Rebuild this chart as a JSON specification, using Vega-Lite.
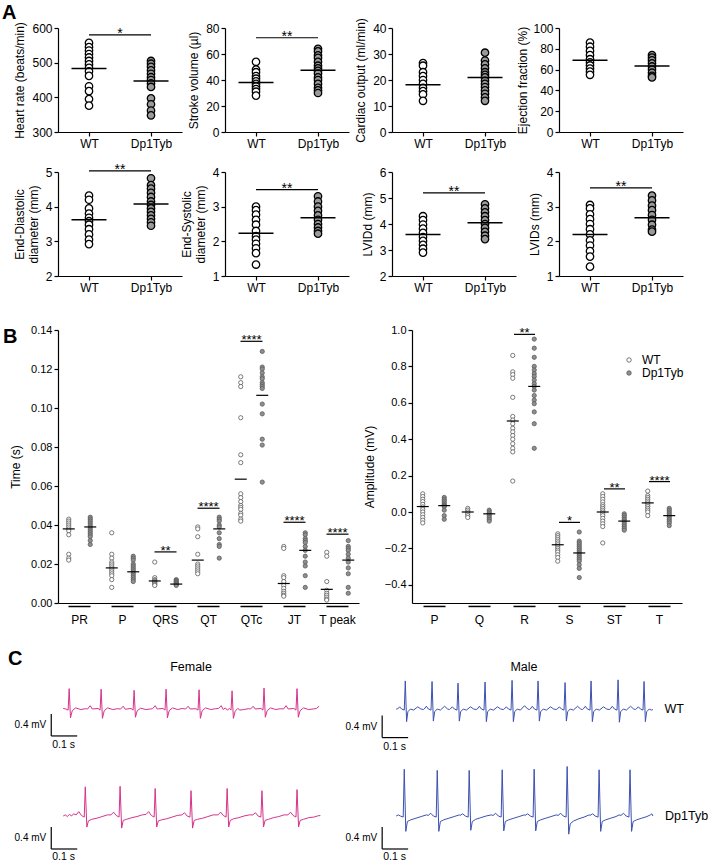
{
"$schema": "https://vega.github.io/schema/vega-lite/v6.json",
"background": "white",
"padding": {"left": 2, "top": 2, "right": 2, "bottom": 2},
"config": {
 "font": "Liberation Sans",
 "view": {"stroke": null},
 "axis": {"grid": false, "domainColor": "black", "tickColor": "black", "labelColor": "black", "titleColor": "black", "titleFontWeight": "normal", "labelFontSize": 12, "titleFontSize": 12, "domainWidth": 1.2, "tickWidth": 1.2, "tickSize": 4, "labelPadding": 2, "titlePadding": 5, "labelFont": "Liberation Sans", "titleFont": "Liberation Sans"},
 "title": {"font": "Liberation Sans", "color": "black"},
 "text": {"font": "Liberation Sans", "color": "black"}
},
"datasets": {
 "a": [
  {"m":"HR","g":"WT","k":"pt","v":[557,545,535,525,515,505,495,485,475,462,432,418,395,376]},
  {"m":"HR","g":"Dp1Tyb","k":"pt","v":[505,497,488,478,468,458,450,440,430,397,380,362,348]},
  {"m":"HR","g":"WT","k":"mean","v":[483]},
  {"m":"HR","g":"Dp1Tyb","k":"mean","v":[447]},
  {"m":"HR","g":"WT","k":"sig","v":[580],"lab":"*"},
  {"m":"SV","g":"WT","k":"pt","v":[54,48,46,43,41,39,37,35,33,31,28]},
  {"m":"SV","g":"Dp1Tyb","k":"pt","v":[64,62,59,57,54,51,49,47,45,42,40,37,34,32,30]},
  {"m":"SV","g":"WT","k":"mean","v":[38]},
  {"m":"SV","g":"Dp1Tyb","k":"mean","v":[47.5]},
  {"m":"SV","g":"WT","k":"sig","v":[72.5],"lab":"**"},
  {"m":"CO","g":"WT","k":"pt","v":[26.5,25.5,23,21.5,20,18.5,17,15.7,14.5,12]},
  {"m":"CO","g":"Dp1Tyb","k":"pt","v":[30.5,27.5,26,24.5,23,22,21,19.7,18.5,17.3,16,14.7,13.3,12]},
  {"m":"CO","g":"WT","k":"mean","v":[18.2]},
  {"m":"CO","g":"Dp1Tyb","k":"mean","v":[21]},
  {"m":"EF","g":"WT","k":"pt","v":[86,82,78,74,70,67,64,61,58,55]},
  {"m":"EF","g":"Dp1Tyb","k":"pt","v":[74,71.5,69,66,63,60,57,54,52.5]},
  {"m":"EF","g":"WT","k":"mean","v":[69]},
  {"m":"EF","g":"Dp1Tyb","k":"mean","v":[63.5]},
  {"m":"ED","g":"WT","k":"pt","v":[4.32,4.2,3.95,3.8,3.68,3.58,3.48,3.35,3.2,3.05,2.92]},
  {"m":"ED","g":"Dp1Tyb","k":"pt","v":[4.82,4.62,4.52,4.4,4.28,4.15,4.05,3.95,3.85,3.75,3.65,3.55,3.45]},
  {"m":"ED","g":"WT","k":"mean","v":[3.62]},
  {"m":"ED","g":"Dp1Tyb","k":"mean","v":[4.08]},
  {"m":"ED","g":"WT","k":"sig","v":[5.03],"lab":"**"},
  {"m":"ES","g":"WT","k":"pt","v":[3.0,2.9,2.77,2.62,2.48,2.3,2.15,2.05,1.93,1.8,1.66,1.33]},
  {"m":"ES","g":"Dp1Tyb","k":"pt","v":[3.3,3.15,3.0,2.88,2.75,2.62,2.5,2.4,2.3,2.22]},
  {"m":"ES","g":"WT","k":"mean","v":[2.23]},
  {"m":"ES","g":"Dp1Tyb","k":"mean","v":[2.68]},
  {"m":"ES","g":"WT","k":"sig","v":[3.49],"lab":"**"},
  {"m":"LD","g":"WT","k":"pt","v":[4.3,4.15,3.98,3.82,3.66,3.5,3.35,3.2,3.05,2.9]},
  {"m":"LD","g":"Dp1Tyb","k":"pt","v":[4.76,4.6,4.45,4.3,4.15,4.0,3.85,3.7,3.55,3.42]},
  {"m":"LD","g":"WT","k":"mean","v":[3.6]},
  {"m":"LD","g":"Dp1Tyb","k":"mean","v":[4.05]},
  {"m":"LD","g":"WT","k":"sig","v":[5.2],"lab":"**"},
  {"m":"LS","g":"WT","k":"pt","v":[3.05,2.95,2.78,2.64,2.5,2.35,2.2,2.03,1.88,1.72,1.56,1.27]},
  {"m":"LS","g":"Dp1Tyb","k":"pt","v":[3.32,3.18,3.03,2.9,2.76,2.62,2.48,2.34,2.28]},
  {"m":"LS","g":"WT","k":"mean","v":[2.2]},
  {"m":"LS","g":"Dp1Tyb","k":"mean","v":[2.68]},
  {"m":"LS","g":"WT","k":"sig","v":[3.54],"lab":"**"}
 ],
 "bt": [
  {"p":"PR","g":"WT","k":"pt","v":[0.043,0.042,0.041,0.040,0.039,0.038,0.037,0.035,0.025,0.023,0.022]},
  {"p":"PR","g":"Dp1Tyb","k":"pt","v":[0.044,0.043,0.042,0.041,0.040,0.039,0.038,0.037,0.036,0.035,0.034,0.032,0.030]},
  {"p":"P","g":"WT","k":"pt","v":[0.036,0.025,0.023,0.021,0.020,0.019,0.018,0.017,0.016,0.015,0.014,0.012,0.008]},
  {"p":"P","g":"Dp1Tyb","k":"pt","v":[0.024,0.023,0.022,0.020,0.019,0.018,0.017,0.016,0.015,0.014,0.013,0.012,0.011]},
  {"p":"QRS","g":"WT","k":"pt","v":[0.021,0.013,0.012,0.0115,0.011,0.0105,0.010,0.0095,0.009]},
  {"p":"QRS","g":"Dp1Tyb","k":"pt","v":[0.012,0.0115,0.011,0.0105,0.010,0.0095,0.009]},
  {"p":"QT","g":"WT","k":"pt","v":[0.039,0.038,0.034,0.025,0.020,0.019,0.018,0.017,0.016,0.015]},
  {"p":"QT","g":"Dp1Tyb","k":"pt","v":[0.044,0.043,0.042,0.040,0.039,0.036,0.033,0.030,0.029,0.023]},
  {"p":"QTc","g":"WT","k":"pt","v":[0.116,0.113,0.111,0.095,0.076,0.072,0.056,0.054,0.052,0.050,0.049,0.048,0.046,0.045,0.043,0.042]},
  {"p":"QTc","g":"Dp1Tyb","k":"pt","v":[0.129,0.121,0.120,0.118,0.116,0.115,0.113,0.112,0.111,0.110,0.102,0.097,0.084,0.081,0.062]},
  {"p":"JT","g":"WT","k":"pt","v":[0.029,0.028,0.014,0.013,0.011,0.009,0.0075,0.006,0.005,0.004,0.0035]},
  {"p":"JT","g":"Dp1Tyb","k":"pt","v":[0.036,0.035,0.033,0.032,0.031,0.029,0.027,0.024,0.021,0.019,0.014,0.008]},
  {"p":"T peak","g":"WT","k":"pt","v":[0.026,0.024,0.011,0.0065,0.005,0.004,0.003,0.002,0.0015]},
  {"p":"T peak","g":"Dp1Tyb","k":"pt","v":[0.032,0.029,0.028,0.027,0.025,0.023,0.021,0.018,0.015,0.008,0.005]},
  {"p":"PR","g":"WT","k":"mean","v":[0.038]},
  {"p":"PR","g":"Dp1Tyb","k":"mean","v":[0.039]},
  {"p":"P","g":"WT","k":"mean","v":[0.018]},
  {"p":"P","g":"Dp1Tyb","k":"mean","v":[0.016]},
  {"p":"QRS","g":"WT","k":"mean","v":[0.0113]},
  {"p":"QRS","g":"Dp1Tyb","k":"mean","v":[0.0097]},
  {"p":"QT","g":"WT","k":"mean","v":[0.022]},
  {"p":"QT","g":"Dp1Tyb","k":"mean","v":[0.038]},
  {"p":"QTc","g":"WT","k":"mean","v":[0.0635]},
  {"p":"QTc","g":"Dp1Tyb","k":"mean","v":[0.1065]},
  {"p":"JT","g":"WT","k":"mean","v":[0.010]},
  {"p":"JT","g":"Dp1Tyb","k":"mean","v":[0.027]},
  {"p":"T peak","g":"WT","k":"mean","v":[0.007]},
  {"p":"T peak","g":"Dp1Tyb","k":"mean","v":[0.022]},
  {"p":"QRS","g":"WT","k":"sig","v":[0.0262],"lab":"**"},
  {"p":"QT","g":"WT","k":"sig","v":[0.0486],"lab":"****"},
  {"p":"QTc","g":"WT","k":"sig","v":[0.1342],"lab":"****"},
  {"p":"JT","g":"WT","k":"sig","v":[0.0414],"lab":"****"},
  {"p":"T peak","g":"WT","k":"sig","v":[0.0353],"lab":"****"}
 ],
 "ba": [
  {"p":"P","g":"WT","k":"pt","v":[0.10,0.085,0.07,0.057,0.042,0.028,0.013,0.0,-0.015,-0.03,-0.045,-0.06]},
  {"p":"P","g":"Dp1Tyb","k":"pt","v":[0.08,0.07,0.06,0.05,0.04,0.035,0.03,0.01,-0.02,-0.04]},
  {"p":"Q","g":"WT","k":"pt","v":[0.02,0.01,0.0,-0.01,-0.02,-0.03]},
  {"p":"Q","g":"Dp1Tyb","k":"pt","v":[0.01,0.0,-0.01,-0.02,-0.03,-0.04,-0.05]},
  {"p":"R","g":"WT","k":"pt","v":[0.86,0.77,0.755,0.735,0.63,0.525,0.505,0.485,0.46,0.44,0.42,0.40,0.375,0.35,0.33,0.17]},
  {"p":"R","g":"Dp1Tyb","k":"pt","v":[0.95,0.90,0.85,0.80,0.78,0.76,0.745,0.725,0.705,0.69,0.67,0.64,0.615,0.595,0.55,0.485,0.35]},
  {"p":"S","g":"WT","k":"pt","v":[-0.12,-0.13,-0.14,-0.15,-0.16,-0.17,-0.18,-0.19,-0.20,-0.21,-0.22,-0.235,-0.25,-0.27]},
  {"p":"S","g":"Dp1Tyb","k":"pt","v":[-0.11,-0.16,-0.17,-0.18,-0.19,-0.2,-0.21,-0.22,-0.23,-0.24,-0.25,-0.26,-0.27,-0.29,-0.31,-0.36]},
  {"p":"ST","g":"WT","k":"pt","v":[0.10,0.085,0.07,0.055,0.04,0.03,0.02,0.01,0.0,-0.01,-0.02,-0.035,-0.05,-0.065,-0.08,-0.17]},
  {"p":"ST","g":"Dp1Tyb","k":"pt","v":[-0.01,-0.02,-0.03,-0.04,-0.05,-0.06,-0.07,-0.08,-0.09,-0.1]},
  {"p":"T","g":"WT","k":"pt","v":[0.115,0.09,0.08,0.07,0.06,0.05,0.04,0.03,0.02,0.01,0.0,-0.02]},
  {"p":"T","g":"Dp1Tyb","k":"pt","v":[0.02,0.01,0.0,-0.01,-0.02,-0.03,-0.04,-0.05,-0.06,-0.075]},
  {"p":"P","g":"WT","k":"mean","v":[0.03]},
  {"p":"P","g":"Dp1Tyb","k":"mean","v":[0.035]},
  {"p":"Q","g":"WT","k":"mean","v":[0.0]},
  {"p":"Q","g":"Dp1Tyb","k":"mean","v":[-0.01]},
  {"p":"R","g":"WT","k":"mean","v":[0.5]},
  {"p":"R","g":"Dp1Tyb","k":"mean","v":[0.69]},
  {"p":"S","g":"WT","k":"mean","v":[-0.18]},
  {"p":"S","g":"Dp1Tyb","k":"mean","v":[-0.225]},
  {"p":"ST","g":"WT","k":"mean","v":[0.0]},
  {"p":"ST","g":"Dp1Tyb","k":"mean","v":[-0.05]},
  {"p":"T","g":"WT","k":"mean","v":[0.05]},
  {"p":"T","g":"Dp1Tyb","k":"mean","v":[-0.02]},
  {"p":"R","g":"WT","k":"sig","v":[0.976],"lab":"**"},
  {"p":"S","g":"WT","k":"sig","v":[-0.057],"lab":"*"},
  {"p":"ST","g":"WT","k":"sig","v":[0.127],"lab":"**"},
  {"p":"T","g":"WT","k":"sig","v":[0.167],"lab":"****"}
 ],
 "fw": [{"t":[0,0.01,0.019,0.023,0.028,0.035,0.048,0.068,0.085,0.094,0.104,0.112,0.134,0.142,0.146,0.151,0.158,0.171,0.191,0.208,0.221,0.231,0.239,0.261,0.269,0.273,0.278,0.285,0.298,0.318,0.335,0.344,0.354,0.362,0.384,0.392,0.396,0.401,0.408,0.421,0.441,0.458,0.471,0.481,0.489,0.511,0.519,0.523,0.528,0.535,0.548,0.568,0.585,0.598,0.608,0.616,0.624,0.632,0.640,0.646,0.650,0.655,0.662,0.672,0.680,0.695,0.712,0.721,0.731,0.739,0.761,0.769,0.773,0.778,0.785,0.798,0.818,0.835,0.848,0.858,0.866,0.888,0.896,0.900,0.905,0.912,0.925,0.945,0.962,0.975,0.985],
         "v":[0.01,0.0,-0.02,0.37,-0.16,-0.03,0.02,-0.01,0.005,0.0,0.06,0.0,0.01,-0.02,0.36,-0.17,-0.03,0.02,-0.01,0.005,0.0,0.05,-0.005,0.01,-0.02,0.34,-0.15,-0.03,0.015,-0.01,0.0,0.005,0.06,0.0,0.01,-0.02,0.36,-0.16,-0.03,0.02,-0.01,0.01,0.0,0.05,0.0,0.005,-0.02,0.35,-0.17,-0.03,0.02,-0.01,0.005,0.01,0.06,-0.01,0.02,-0.02,0.01,-0.02,0.33,-0.17,-0.04,0.01,-0.02,-0.01,0.005,0.0,0.05,0.0,0.01,-0.02,0.38,-0.15,-0.03,0.02,-0.01,0.005,0.0,0.06,0.0,0.01,-0.02,0.37,-0.15,-0.03,0.02,-0.01,0.0,0.01,0.05]}],
 "fd": [{"t":[0,0.008,0.016,0.024,0.032,0.04,0.05,0.06,0.07,0.081,0.085,0.091,0.097,0.11,0.13,0.15,0.17,0.184,0.194,0.204,0.215,0.219,0.225,0.231,0.244,0.264,0.284,0.304,0.319,0.329,0.339,0.35,0.354,0.36,0.366,0.379,0.399,0.419,0.439,0.457,0.467,0.477,0.488,0.492,0.498,0.504,0.517,0.537,0.557,0.577,0.596,0.606,0.616,0.627,0.631,0.637,0.643,0.656,0.676,0.696,0.716,0.73,0.74,0.75,0.761,0.765,0.771,0.777,0.79,0.81,0.83,0.85,0.865,0.875,0.885,0.896,0.9,0.906,0.912,0.925,0.945,0.965,0.978,0.99],
         "v":[0.0,0.02,-0.01,0.03,0.0,0.04,0.02,0.08,0.01,-0.02,0.53,-0.2,-0.09,-0.06,-0.04,-0.01,0.02,0.02,0.07,0.01,-0.02,0.54,-0.22,-0.08,-0.06,-0.03,-0.01,0.02,0.03,0.08,0.01,-0.02,0.5,-0.2,-0.09,-0.07,-0.05,-0.02,0.01,0.02,0.06,0.0,-0.02,0.46,-0.22,-0.08,-0.06,-0.04,-0.01,0.02,0.02,0.07,0.01,-0.02,0.5,-0.2,-0.08,-0.05,-0.03,0.0,0.02,0.02,0.06,0.0,-0.02,0.46,-0.2,-0.08,-0.06,-0.03,-0.01,0.02,0.02,0.07,0.01,-0.02,0.48,-0.2,-0.08,-0.06,-0.03,-0.02,0.0,0.01]}],
 "mw": [{"t":[0,0.005,0.013,0.021,0.031,0.035,0.04,0.045,0.055,0.067,0.083,0.095,0.105,0.108,0.116,0.124,0.134,0.138,0.143,0.148,0.158,0.17,0.186,0.198,0.205,0.208,0.216,0.224,0.234,0.238,0.243,0.248,0.258,0.27,0.286,0.298,0.308,0.312,0.32,0.328,0.338,0.342,0.347,0.352,0.362,0.374,0.39,0.402,0.412,0.416,0.424,0.432,0.442,0.446,0.451,0.456,0.466,0.478,0.494,0.506,0.513,0.516,0.524,0.532,0.542,0.546,0.551,0.556,0.566,0.578,0.594,0.606,0.616,0.62,0.628,0.636,0.646,0.65,0.655,0.66,0.67,0.682,0.698,0.71,0.717,0.72,0.728,0.736,0.746,0.75,0.755,0.76,0.77,0.782,0.798,0.81,0.82,0.824,0.832,0.84,0.85,0.854,0.859,0.864,0.874,0.886,0.902,0.914,0.921,0.924,0.932,0.94,0.95,0.954,0.959,0.964,0.974,0.982,0.988],
         "v":[0.0,0.0,0.04,0.0,-0.02,0.51,-0.23,-0.05,0.0,-0.02,0.04,0.0,-0.01,0.0,0.05,0.0,-0.02,0.5,-0.22,-0.05,0.0,-0.02,0.05,0.0,-0.01,0.0,0.04,0.0,-0.02,0.47,-0.22,-0.05,0.0,-0.02,0.04,0.0,-0.01,0.0,0.05,0.0,-0.02,0.49,-0.23,-0.05,0.0,-0.02,0.04,0.0,-0.01,0.0,0.04,0.0,-0.02,0.52,-0.23,-0.05,0.0,-0.02,0.06,0.0,-0.01,0.0,0.05,0.0,-0.02,0.51,-0.22,-0.05,0.0,-0.02,0.04,0.0,-0.01,0.0,0.04,0.0,-0.02,0.48,-0.22,-0.05,0.0,-0.02,0.05,0.0,-0.01,0.0,0.05,0.0,-0.02,0.51,-0.23,-0.05,0.0,-0.02,0.04,0.0,-0.01,0.0,0.05,0.0,-0.02,0.53,-0.24,-0.05,0.0,-0.02,0.05,0.0,-0.01,0.0,0.04,0.0,-0.02,0.5,-0.23,-0.05,0.0,-0.02,-0.01]}],
 "md": [{"t":[0,0.008,0.016,0.027,0.031,0.037,0.043,0.056,0.076,0.096,0.116,0.123,0.133,0.143,0.154,0.158,0.164,0.17,0.183,0.203,0.223,0.243,0.246,0.256,0.266,0.277,0.281,0.287,0.293,0.306,0.326,0.346,0.366,0.373,0.383,0.393,0.404,0.408,0.414,0.42,0.433,0.453,0.473,0.493,0.496,0.506,0.516,0.527,0.531,0.537,0.543,0.556,0.576,0.596,0.616,0.623,0.633,0.643,0.654,0.658,0.664,0.67,0.683,0.703,0.723,0.743,0.746,0.756,0.766,0.777,0.781,0.787,0.793,0.806,0.826,0.846,0.858,0.865,0.875,0.885,0.896,0.9,0.906,0.912,0.925,0.945,0.965,0.978,0.984,0.988],
         "v":[0.0,0.02,0.0,-0.02,0.85,-0.28,-0.1,-0.07,-0.04,-0.01,0.02,0.01,0.05,0.0,-0.02,0.83,-0.28,-0.1,-0.07,-0.04,-0.01,0.02,0.01,0.04,0.0,-0.02,0.83,-0.26,-0.1,-0.06,-0.03,0.0,0.02,0.01,0.05,0.0,-0.02,0.84,-0.27,-0.1,-0.07,-0.04,-0.01,0.02,0.01,0.04,0.0,-0.02,0.85,-0.27,-0.1,-0.07,-0.04,-0.01,0.02,0.01,0.05,0.0,-0.02,0.9,-0.33,-0.14,-0.09,-0.05,-0.02,0.02,0.01,0.04,0.0,-0.02,0.84,-0.28,-0.1,-0.07,-0.04,-0.01,0.02,0.01,0.05,0.0,-0.02,0.84,-0.28,-0.1,-0.07,-0.04,-0.01,0.02,0.04,0.0]}],
 "sb": [
  {"s":"F","g":"WT","t0":-0.046,"t1":0.054,"v0":-0.09,"v1":-0.49,"vm":-0.29},
  {"s":"F","g":"Dp1Tyb","t0":-0.046,"t1":0.054,"v0":-0.2,"v1":-0.6,"vm":-0.4},
  {"s":"M","g":"WT","t0":-0.054,"t1":0.046,"v0":-0.12,"v1":-0.52,"vm":-0.32},
  {"s":"M","g":"Dp1Tyb","t0":-0.054,"t1":0.046,"v0":-0.2,"v1":-0.6,"vm":-0.4}
 ]
},
"bounds": "flush",
"spacing": 648,
"vconcat": [
 {"bounds": "flush", "spacing": 302, "vconcat": [
  {"bounds": "flush", "spacing": 144, "vconcat": [
   {"bounds": "flush", "spacing": 43, "hconcat": [
    {"width": 124, "height": 104,
     "title": {"text": "A", "anchor": "start", "frame": "group", "dx": -56, "offset": -17, "baseline": "alphabetic", "fontSize": 20, "fontWeight": "bold"},
     "data": {"name": "a"},
     "transform": [{"filter": "datum.m==='HR'"}, {"flatten": ["v"]}],
     "encoding": {
      "x": {"field": "g", "type": "nominal", "sort": ["WT","Dp1Tyb"], "scale": {"type": "point", "padding": 0.5, "domain": ["WT","Dp1Tyb"]}, "axis": {"title": null, "labelAngle": 0}},
      "y": {"field": "v", "type": "quantitative", "scale": {"domain": [300,600], "nice": false, "zero": false}, "axis": {"title": "Heart rate (beats/min)", "values": [300,400,500,600]}}
     },
     "layer": [
      {"transform": [{"filter": "datum.k==='pt'"}], "mark": {"type": "circle", "size": 55, "stroke": "black", "strokeWidth": 1.3, "opacity": 1}, "encoding": {"fill": {"condition": {"test": "datum.g==='WT'", "value": "white"}, "value": "#9a9a9a"}}},
      {"transform": [{"filter": "datum.k==='mean'"}], "mark": {"type": "tick", "size": 35, "thickness": 1.5, "color": "black", "opacity": 1}},
      {"transform": [{"filter": "datum.k==='sig'"}], "mark": {"type": "rule", "color": "black", "strokeWidth": 1.2}, "encoding": {"x": {"datum": "WT"}, "x2": {"datum": "Dp1Tyb"}}},
      {"transform": [{"filter": "datum.k==='sig'"}], "mark": {"type": "text", "dx": 31, "dy": 3, "fontSize": 14, "baseline": "alphabetic"}, "encoding": {"x": {"datum": "WT"}, "text": {"field": "lab"}}}
     ]},
    {"width": 124, "height": 104,
     "data": {"name": "a"},
     "transform": [{"filter": "datum.m==='SV'"}, {"flatten": ["v"]}],
     "encoding": {
      "x": {"field": "g", "type": "nominal", "sort": ["WT","Dp1Tyb"], "scale": {"type": "point", "padding": 0.5, "domain": ["WT","Dp1Tyb"]}, "axis": {"title": null, "labelAngle": 0}},
      "y": {"field": "v", "type": "quantitative", "scale": {"domain": [0,80], "nice": false, "zero": false}, "axis": {"title": "Stroke volume (µl)", "values": [0,20,40,60,80]}}
     },
     "layer": [
      {"transform": [{"filter": "datum.k==='pt'"}], "mark": {"type": "circle", "size": 55, "stroke": "black", "strokeWidth": 1.3, "opacity": 1}, "encoding": {"fill": {"condition": {"test": "datum.g==='WT'", "value": "white"}, "value": "#9a9a9a"}}},
      {"transform": [{"filter": "datum.k==='mean'"}], "mark": {"type": "tick", "size": 35, "thickness": 1.5, "color": "black", "opacity": 1}},
      {"transform": [{"filter": "datum.k==='sig'"}], "mark": {"type": "rule", "color": "black", "strokeWidth": 1.2}, "encoding": {"x": {"datum": "WT"}, "x2": {"datum": "Dp1Tyb"}}},
      {"transform": [{"filter": "datum.k==='sig'"}], "mark": {"type": "text", "dx": 31, "dy": 3, "fontSize": 14, "baseline": "alphabetic"}, "encoding": {"x": {"datum": "WT"}, "text": {"field": "lab"}}}
     ]},
    {"width": 124, "height": 104,
     "data": {"name": "a"},
     "transform": [{"filter": "datum.m==='CO'"}, {"flatten": ["v"]}],
     "encoding": {
      "x": {"field": "g", "type": "nominal", "sort": ["WT","Dp1Tyb"], "scale": {"type": "point", "padding": 0.5, "domain": ["WT","Dp1Tyb"]}, "axis": {"title": null, "labelAngle": 0}},
      "y": {"field": "v", "type": "quantitative", "scale": {"domain": [0,40], "nice": false, "zero": false}, "axis": {"title": "Cardiac output (ml/min)", "values": [0,10,20,30,40]}}
     },
     "layer": [
      {"transform": [{"filter": "datum.k==='pt'"}], "mark": {"type": "circle", "size": 55, "stroke": "black", "strokeWidth": 1.3, "opacity": 1}, "encoding": {"fill": {"condition": {"test": "datum.g==='WT'", "value": "white"}, "value": "#9a9a9a"}}},
      {"transform": [{"filter": "datum.k==='mean'"}], "mark": {"type": "tick", "size": 35, "thickness": 1.5, "color": "black", "opacity": 1}}
     ]},
    {"width": 124, "height": 104,
     "data": {"name": "a"},
     "transform": [{"filter": "datum.m==='EF'"}, {"flatten": ["v"]}],
     "encoding": {
      "x": {"field": "g", "type": "nominal", "sort": ["WT","Dp1Tyb"], "scale": {"type": "point", "padding": 0.5, "domain": ["WT","Dp1Tyb"]}, "axis": {"title": null, "labelAngle": 0}},
      "y": {"field": "v", "type": "quantitative", "scale": {"domain": [0,100], "nice": false, "zero": false}, "axis": {"title": "Ejection fraction (%)", "values": [0,20,40,60,80,100], "titlePadding": 3}}
     },
     "layer": [
      {"transform": [{"filter": "datum.k==='pt'"}], "mark": {"type": "circle", "size": 55, "stroke": "black", "strokeWidth": 1.3, "opacity": 1}, "encoding": {"fill": {"condition": {"test": "datum.g==='WT'", "value": "white"}, "value": "#9a9a9a"}}},
      {"transform": [{"filter": "datum.k==='mean'"}], "mark": {"type": "tick", "size": 35, "thickness": 1.5, "color": "black", "opacity": 1}}
     ]}
   ]},
   {"bounds": "flush", "spacing": 43, "hconcat": [
    {"width": 124, "height": 104,
     "data": {"name": "a"},
     "transform": [{"filter": "datum.m==='ED'"}, {"flatten": ["v"]}],
     "encoding": {
      "x": {"field": "g", "type": "nominal", "sort": ["WT","Dp1Tyb"], "scale": {"type": "point", "padding": 0.5, "domain": ["WT","Dp1Tyb"]}, "axis": {"title": null, "labelAngle": 0}},
      "y": {"field": "v", "type": "quantitative", "scale": {"domain": [2,5], "nice": false, "zero": false}, "axis": {"title": ["End-Diastolic","diameter (mm)"], "values": [2,3,4,5]}}
     },
     "layer": [
      {"transform": [{"filter": "datum.k==='pt'"}], "mark": {"type": "circle", "size": 55, "stroke": "black", "strokeWidth": 1.3, "opacity": 1}, "encoding": {"fill": {"condition": {"test": "datum.g==='WT'", "value": "white"}, "value": "#9a9a9a"}}},
      {"transform": [{"filter": "datum.k==='mean'"}], "mark": {"type": "tick", "size": 35, "thickness": 1.5, "color": "black", "opacity": 1}},
      {"transform": [{"filter": "datum.k==='sig'"}], "mark": {"type": "rule", "color": "black", "strokeWidth": 1.2}, "encoding": {"x": {"datum": "WT"}, "x2": {"datum": "Dp1Tyb"}}},
      {"transform": [{"filter": "datum.k==='sig'"}], "mark": {"type": "text", "dx": 31, "dy": 3, "fontSize": 14, "baseline": "alphabetic"}, "encoding": {"x": {"datum": "WT"}, "text": {"field": "lab"}}}
     ]},
    {"width": 124, "height": 104,
     "data": {"name": "a"},
     "transform": [{"filter": "datum.m==='ES'"}, {"flatten": ["v"]}],
     "encoding": {
      "x": {"field": "g", "type": "nominal", "sort": ["WT","Dp1Tyb"], "scale": {"type": "point", "padding": 0.5, "domain": ["WT","Dp1Tyb"]}, "axis": {"title": null, "labelAngle": 0}},
      "y": {"field": "v", "type": "quantitative", "scale": {"domain": [1,4], "nice": false, "zero": false}, "axis": {"title": ["End-Systolic","diameter (mm)"], "values": [1,2,3,4]}}
     },
     "layer": [
      {"transform": [{"filter": "datum.k==='pt'"}], "mark": {"type": "circle", "size": 55, "stroke": "black", "strokeWidth": 1.3, "opacity": 1}, "encoding": {"fill": {"condition": {"test": "datum.g==='WT'", "value": "white"}, "value": "#9a9a9a"}}},
      {"transform": [{"filter": "datum.k==='mean'"}], "mark": {"type": "tick", "size": 35, "thickness": 1.5, "color": "black", "opacity": 1}},
      {"transform": [{"filter": "datum.k==='sig'"}], "mark": {"type": "rule", "color": "black", "strokeWidth": 1.2}, "encoding": {"x": {"datum": "WT"}, "x2": {"datum": "Dp1Tyb"}}},
      {"transform": [{"filter": "datum.k==='sig'"}], "mark": {"type": "text", "dx": 31, "dy": 3, "fontSize": 14, "baseline": "alphabetic"}, "encoding": {"x": {"datum": "WT"}, "text": {"field": "lab"}}}
     ]},
    {"width": 124, "height": 104,
     "data": {"name": "a"},
     "transform": [{"filter": "datum.m==='LD'"}, {"flatten": ["v"]}],
     "encoding": {
      "x": {"field": "g", "type": "nominal", "sort": ["WT","Dp1Tyb"], "scale": {"type": "point", "padding": 0.5, "domain": ["WT","Dp1Tyb"]}, "axis": {"title": null, "labelAngle": 0}},
      "y": {"field": "v", "type": "quantitative", "scale": {"domain": [2,6], "nice": false, "zero": false}, "axis": {"title": "LVIDd (mm)", "values": [2,3,4,5,6]}}
     },
     "layer": [
      {"transform": [{"filter": "datum.k==='pt'"}], "mark": {"type": "circle", "size": 55, "stroke": "black", "strokeWidth": 1.3, "opacity": 1}, "encoding": {"fill": {"condition": {"test": "datum.g==='WT'", "value": "white"}, "value": "#9a9a9a"}}},
      {"transform": [{"filter": "datum.k==='mean'"}], "mark": {"type": "tick", "size": 35, "thickness": 1.5, "color": "black", "opacity": 1}},
      {"transform": [{"filter": "datum.k==='sig'"}], "mark": {"type": "rule", "color": "black", "strokeWidth": 1.2}, "encoding": {"x": {"datum": "WT"}, "x2": {"datum": "Dp1Tyb"}}},
      {"transform": [{"filter": "datum.k==='sig'"}], "mark": {"type": "text", "dx": 31, "dy": 3, "fontSize": 14, "baseline": "alphabetic"}, "encoding": {"x": {"datum": "WT"}, "text": {"field": "lab"}}}
     ]},
    {"width": 124, "height": 104,
     "data": {"name": "a"},
     "transform": [{"filter": "datum.m==='LS'"}, {"flatten": ["v"]}],
     "encoding": {
      "x": {"field": "g", "type": "nominal", "sort": ["WT","Dp1Tyb"], "scale": {"type": "point", "padding": 0.5, "domain": ["WT","Dp1Tyb"]}, "axis": {"title": null, "labelAngle": 0}},
      "y": {"field": "v", "type": "quantitative", "scale": {"domain": [1,4], "nice": false, "zero": false}, "axis": {"title": "LVIDs (mm)", "values": [1,2,3,4]}}
     },
     "layer": [
      {"transform": [{"filter": "datum.k==='pt'"}], "mark": {"type": "circle", "size": 55, "stroke": "black", "strokeWidth": 1.3, "opacity": 1}, "encoding": {"fill": {"condition": {"test": "datum.g==='WT'", "value": "white"}, "value": "#9a9a9a"}}},
      {"transform": [{"filter": "datum.k==='mean'"}], "mark": {"type": "tick", "size": 35, "thickness": 1.5, "color": "black", "opacity": 1}},
      {"transform": [{"filter": "datum.k==='sig'"}], "mark": {"type": "rule", "color": "black", "strokeWidth": 1.2}, "encoding": {"x": {"datum": "WT"}, "x2": {"datum": "Dp1Tyb"}}},
      {"transform": [{"filter": "datum.k==='sig'"}], "mark": {"type": "text", "dx": 31, "dy": 3, "fontSize": 14, "baseline": "alphabetic"}, "encoding": {"x": {"datum": "WT"}, "text": {"field": "lab"}}}
     ]}
   ]}
  ]},
  {"bounds": "flush", "spacing": 53,
   "resolve": {"scale": {"fill": "independent"}, "legend": {"fill": "independent"}},
   "hconcat": [
   {"width": 301, "height": 273,
    "title": {"text": "B", "anchor": "start", "frame": "group", "dx": -55, "dy": 39, "offset": 0, "baseline": "alphabetic", "fontSize": 20, "fontWeight": "bold"},
    "data": {"name": "bt"},
    "transform": [{"flatten": ["v"]}],
    "encoding": {
     "x": {"field": "p", "type": "nominal", "sort": ["PR","P","QRS","QT","QTc","JT","T peak"], "scale": {"domain": ["PR","P","QRS","QT","QTc","JT","T peak"], "paddingInner": 0, "paddingOuter": 0}, "axis": {"title": null, "labelAngle": 0, "ticks": false, "labelPadding": 11}},
     "y": {"field": "v", "type": "quantitative", "scale": {"domain": [0,0.14], "nice": false, "zero": false}, "axis": {"title": "Time (s)", "values": [0,0.02,0.04,0.06,0.08,0.1,0.12,0.14], "format": ".2f", "labelFontSize": 11, "titlePadding": 8}}
    },
    "layer": [
     {"transform": [{"filter": "datum.k==='pt'"}], "mark": {"type": "circle", "size": 18, "stroke": "#5a5a5a", "strokeWidth": 0.8, "opacity": 1},
      "encoding": {"xOffset": {"field": "g", "type": "nominal", "sort": ["WT","Dp1Tyb"], "scale": {"domain": ["WT","Dp1Tyb"], "paddingInner": 0, "paddingOuter": 0}}, "fill": {"condition": {"test": "datum.g==='WT'", "value": "white"}, "value": "#8f8f8f"}}},
     {"transform": [{"filter": "datum.k==='mean'"}], "mark": {"type": "tick", "size": 12, "thickness": 1.2, "color": "black", "opacity": 1},
      "encoding": {"xOffset": {"field": "g", "type": "nominal", "sort": ["WT","Dp1Tyb"], "scale": {"domain": ["WT","Dp1Tyb"], "paddingInner": 0, "paddingOuter": 0}}}},
     {"transform": [{"filter": "datum.k==='mean' && datum.g==='WT'"}], "mark": {"type": "tick", "size": 22, "thickness": 1.5, "color": "black", "opacity": 1},
      "encoding": {"y": {"datum": -0.0018}}},
     {"transform": [{"filter": "datum.k==='sig'"}], "mark": {"type": "tick", "size": 22, "thickness": 1.2, "color": "black", "opacity": 1}},
     {"transform": [{"filter": "datum.k==='sig'"}], "mark": {"type": "text", "dy": 3, "fontSize": 13, "baseline": "alphabetic"}, "encoding": {"text": {"field": "lab"}}}
    ]},
   {"width": 270, "height": 273,
    "data": {"name": "ba"},
    "transform": [{"flatten": ["v"]}],
    "encoding": {
     "x": {"field": "p", "type": "nominal", "sort": ["P","Q","R","S","ST","T"], "scale": {"domain": ["P","Q","R","S","ST","T"], "paddingInner": 0, "paddingOuter": 0}, "axis": {"title": null, "labelAngle": 0, "ticks": false, "labelPadding": 11}},
     "y": {"field": "v", "type": "quantitative", "scale": {"domain": [-0.5,1.0], "nice": false, "zero": false}, "axis": {"title": "Amplitude (mV)", "values": [-0.4,-0.2,0,0.2,0.4,0.6,0.8,1.0], "format": ".1f", "labelFontSize": 11, "titlePadding": 8}}
    },
    "layer": [
     {"transform": [{"filter": "datum.k==='pt'"}], "mark": {"type": "circle", "size": 18, "stroke": "#5a5a5a", "strokeWidth": 0.8, "opacity": 1},
      "encoding": {"xOffset": {"field": "g", "type": "nominal", "sort": ["WT","Dp1Tyb"], "scale": {"domain": ["WT","Dp1Tyb"], "paddingInner": 0, "paddingOuter": 0}},
       "fill": {"field": "g", "type": "nominal", "scale": {"domain": ["WT","Dp1Tyb"], "range": ["white","#8f8f8f"]},
        "legend": {"orient": "none", "legendX": 211, "legendY": 24, "title": null, "labelFontSize": 12, "symbolSize": 20, "symbolStrokeColor": "#5a5a5a", "symbolStrokeWidth": 0.8, "rowPadding": 1, "labelOffset": 7, "symbolType": "circle"}}}},
     {"transform": [{"filter": "datum.k==='mean'"}], "mark": {"type": "tick", "size": 12, "thickness": 1.2, "color": "black", "opacity": 1},
      "encoding": {"xOffset": {"field": "g", "type": "nominal", "sort": ["WT","Dp1Tyb"], "scale": {"domain": ["WT","Dp1Tyb"], "paddingInner": 0, "paddingOuter": 0}}}},
     {"transform": [{"filter": "datum.k==='mean' && datum.g==='WT'"}], "mark": {"type": "tick", "size": 22, "thickness": 1.5, "color": "black", "opacity": 1},
      "encoding": {"y": {"datum": -0.519}}},
     {"transform": [{"filter": "datum.k==='sig'"}], "mark": {"type": "tick", "size": 21, "thickness": 1.2, "color": "black", "opacity": 1}},
     {"transform": [{"filter": "datum.k==='sig'"}], "mark": {"type": "text", "dy": 3, "fontSize": 13, "baseline": "alphabetic"}, "encoding": {"text": {"field": "lab"}}}
    ]}
  ]}
 ]},
 {"bounds": "flush", "spacing": 107, "vconcat": [
  {"bounds": "flush", "spacing": 68, "hconcat": [
   {"width": 265, "height": 66,
    "title": {"text": "C", "anchor": "start", "frame": "group", "dx": -50, "offset": -25, "baseline": "alphabetic", "fontSize": 20, "fontWeight": "bold"},
    "layer": [
     {"data": {"name": "fw"}, "transform": [{"flatten": ["t","v"]}], "mark": {"type": "line", "color": "#d6338a", "strokeWidth": 1},
      "encoding": {"x": {"field": "t", "type": "quantitative", "scale": {"domain": [-0.02,1.0], "nice": false, "zero": false}, "axis": {"orient": "top", "title": "Female", "labels": false, "ticks": false, "domain": false, "titlePadding": 3, "titleFontSize": 12.5}},
       "y": {"field": "v", "type": "quantitative", "scale": {"domain": [-0.6,0.6], "nice": false, "zero": false}, "axis": null}}},
     {"data": {"name": "sb"}, "transform": [{"filter": "datum.s==='F' && datum.g==='WT'"}], "mark": {"type": "rule", "color": "black", "strokeWidth": 1.2},
      "encoding": {"x": {"field": "t0", "type": "quantitative", "axis": {"orient": "top", "title": "Female", "labels": false, "ticks": false, "domain": false, "titlePadding": 3, "titleFontSize": 12.5}}, "y": {"field": "v0", "type": "quantitative", "axis": null}, "y2": {"field": "v1"}}},
     {"data": {"name": "sb"}, "transform": [{"filter": "datum.s==='F' && datum.g==='WT'"}], "mark": {"type": "rule", "color": "black", "strokeWidth": 1.2},
      "encoding": {"x": {"field": "t0", "type": "quantitative", "axis": {"orient": "top", "title": "Female", "labels": false, "ticks": false, "domain": false, "titlePadding": 3, "titleFontSize": 12.5}}, "x2": {"field": "t1"}, "y": {"field": "v1", "type": "quantitative", "axis": null}}},
     {"data": {"name": "sb"}, "transform": [{"filter": "datum.s==='F' && datum.g==='WT'"}], "mark": {"type": "text", "align": "right", "baseline": "middle", "dx": -5, "fontSize": 10},
      "encoding": {"x": {"field": "t0", "type": "quantitative", "axis": {"orient": "top", "title": "Female", "labels": false, "ticks": false, "domain": false, "titlePadding": 3, "titleFontSize": 12.5}}, "y": {"field": "vm", "type": "quantitative", "axis": null}, "text": {"value": "0.4 mV"}}},
     {"data": {"name": "sb"}, "transform": [{"filter": "datum.s==='F' && datum.g==='WT'"}], "mark": {"type": "text", "align": "left", "baseline": "top", "dx": 1, "dy": 4, "fontSize": 10.5},
      "encoding": {"x": {"field": "t0", "type": "quantitative", "axis": {"orient": "top", "title": "Female", "labels": false, "ticks": false, "domain": false, "titlePadding": 3, "titleFontSize": 12.5}}, "y": {"field": "v1", "type": "quantitative", "axis": null}, "text": {"value": "0.1 s"}}}
    ]},
   {"width": 265, "height": 66,
    "title": {"text": "WT", "orient": "right", "angle": 0, "align": "left", "baseline": "middle", "anchor": "middle", "offset": -11, "fontSize": 12.5, "fontWeight": "normal"},
    "layer": [
     {"data": {"name": "mw"}, "transform": [{"flatten": ["t","v"]}], "mark": {"type": "line", "color": "#3c50b0", "strokeWidth": 1},
      "encoding": {"x": {"field": "t", "type": "quantitative", "scale": {"domain": [-0.02,1.0], "nice": false, "zero": false}, "axis": {"orient": "top", "title": "Male", "labels": false, "ticks": false, "domain": false, "titlePadding": 3, "titleFontSize": 12.5}},
       "y": {"field": "v", "type": "quantitative", "scale": {"domain": [-0.6,0.6], "nice": false, "zero": false}, "axis": null}}},
     {"data": {"name": "sb"}, "transform": [{"filter": "datum.s==='M' && datum.g==='WT'"}], "mark": {"type": "rule", "color": "black", "strokeWidth": 1.2},
      "encoding": {"x": {"field": "t0", "type": "quantitative", "axis": {"orient": "top", "title": "Male", "labels": false, "ticks": false, "domain": false, "titlePadding": 3, "titleFontSize": 12.5}}, "y": {"field": "v0", "type": "quantitative", "axis": null}, "y2": {"field": "v1"}}},
     {"data": {"name": "sb"}, "transform": [{"filter": "datum.s==='M' && datum.g==='WT'"}], "mark": {"type": "rule", "color": "black", "strokeWidth": 1.2},
      "encoding": {"x": {"field": "t0", "type": "quantitative", "axis": {"orient": "top", "title": "Male", "labels": false, "ticks": false, "domain": false, "titlePadding": 3, "titleFontSize": 12.5}}, "x2": {"field": "t1"}, "y": {"field": "v1", "type": "quantitative", "axis": null}}},
     {"data": {"name": "sb"}, "transform": [{"filter": "datum.s==='M' && datum.g==='WT'"}], "mark": {"type": "text", "align": "right", "baseline": "middle", "dx": -5, "fontSize": 10},
      "encoding": {"x": {"field": "t0", "type": "quantitative", "axis": {"orient": "top", "title": "Male", "labels": false, "ticks": false, "domain": false, "titlePadding": 3, "titleFontSize": 12.5}}, "y": {"field": "vm", "type": "quantitative", "axis": null}, "text": {"value": "0.4 mV"}}},
     {"data": {"name": "sb"}, "transform": [{"filter": "datum.s==='M' && datum.g==='WT'"}], "mark": {"type": "text", "align": "left", "baseline": "top", "dx": 1, "dy": 4, "fontSize": 10.5},
      "encoding": {"x": {"field": "t0", "type": "quantitative", "axis": {"orient": "top", "title": "Male", "labels": false, "ticks": false, "domain": false, "titlePadding": 3, "titleFontSize": 12.5}}, "y": {"field": "v1", "type": "quantitative", "axis": null}, "text": {"value": "0.1 s"}}}
    ]}
  ]},
  {"bounds": "flush", "spacing": 68, "hconcat": [
   {"width": 265, "height": 66,
    "layer": [
     {"data": {"name": "fd"}, "transform": [{"flatten": ["t","v"]}], "mark": {"type": "line", "color": "#d6338a", "strokeWidth": 1},
      "encoding": {"x": {"field": "t", "type": "quantitative", "scale": {"domain": [-0.02,1.0], "nice": false, "zero": false}, "axis": null},
       "y": {"field": "v", "type": "quantitative", "scale": {"domain": [-0.6,0.6], "nice": false, "zero": false}, "axis": null}}},
     {"data": {"name": "sb"}, "transform": [{"filter": "datum.s==='F' && datum.g==='Dp1Tyb'"}], "mark": {"type": "rule", "color": "black", "strokeWidth": 1.2},
      "encoding": {"x": {"field": "t0", "type": "quantitative", "axis": null}, "y": {"field": "v0", "type": "quantitative", "axis": null}, "y2": {"field": "v1"}}},
     {"data": {"name": "sb"}, "transform": [{"filter": "datum.s==='F' && datum.g==='Dp1Tyb'"}], "mark": {"type": "rule", "color": "black", "strokeWidth": 1.2},
      "encoding": {"x": {"field": "t0", "type": "quantitative", "axis": null}, "x2": {"field": "t1"}, "y": {"field": "v1", "type": "quantitative", "axis": null}}},
     {"data": {"name": "sb"}, "transform": [{"filter": "datum.s==='F' && datum.g==='Dp1Tyb'"}], "mark": {"type": "text", "align": "right", "baseline": "middle", "dx": -5, "fontSize": 10},
      "encoding": {"x": {"field": "t0", "type": "quantitative", "axis": null}, "y": {"field": "vm", "type": "quantitative", "axis": null}, "text": {"value": "0.4 mV"}}},
     {"data": {"name": "sb"}, "transform": [{"filter": "datum.s==='F' && datum.g==='Dp1Tyb'"}], "mark": {"type": "text", "align": "left", "baseline": "top", "dx": 1, "dy": 3, "fontSize": 10.5},
      "encoding": {"x": {"field": "t0", "type": "quantitative", "axis": null}, "y": {"field": "v1", "type": "quantitative", "axis": null}, "text": {"value": "0.1 s"}}}
    ]},
   {"width": 265, "height": 66,
    "title": {"text": "Dp1Tyb", "orient": "right", "angle": 0, "align": "left", "baseline": "middle", "anchor": "middle", "offset": -34, "fontSize": 12.5, "fontWeight": "normal"},
    "layer": [
     {"data": {"name": "md"}, "transform": [{"flatten": ["t","v"]}], "mark": {"type": "line", "color": "#3c50b0", "strokeWidth": 1},
      "encoding": {"x": {"field": "t", "type": "quantitative", "scale": {"domain": [-0.02,1.0], "nice": false, "zero": false}, "axis": null},
       "y": {"field": "v", "type": "quantitative", "scale": {"domain": [-0.6,0.6], "nice": false, "zero": false}, "axis": null}}},
     {"data": {"name": "sb"}, "transform": [{"filter": "datum.s==='M' && datum.g==='Dp1Tyb'"}], "mark": {"type": "rule", "color": "black", "strokeWidth": 1.2},
      "encoding": {"x": {"field": "t0", "type": "quantitative", "axis": null}, "y": {"field": "v0", "type": "quantitative", "axis": null}, "y2": {"field": "v1"}}},
     {"data": {"name": "sb"}, "transform": [{"filter": "datum.s==='M' && datum.g==='Dp1Tyb'"}], "mark": {"type": "rule", "color": "black", "strokeWidth": 1.2},
      "encoding": {"x": {"field": "t0", "type": "quantitative", "axis": null}, "x2": {"field": "t1"}, "y": {"field": "v1", "type": "quantitative", "axis": null}}},
     {"data": {"name": "sb"}, "transform": [{"filter": "datum.s==='M' && datum.g==='Dp1Tyb'"}], "mark": {"type": "text", "align": "right", "baseline": "middle", "dx": -5, "fontSize": 10},
      "encoding": {"x": {"field": "t0", "type": "quantitative", "axis": null}, "y": {"field": "vm", "type": "quantitative", "axis": null}, "text": {"value": "0.4 mV"}}},
     {"data": {"name": "sb"}, "transform": [{"filter": "datum.s==='M' && datum.g==='Dp1Tyb'"}], "mark": {"type": "text", "align": "left", "baseline": "top", "dx": 1, "dy": 3, "fontSize": 10.5},
      "encoding": {"x": {"field": "t0", "type": "quantitative", "axis": null}, "y": {"field": "v1", "type": "quantitative", "axis": null}, "text": {"value": "0.1 s"}}}
    ]}
  ]}
 ]}
]
}
